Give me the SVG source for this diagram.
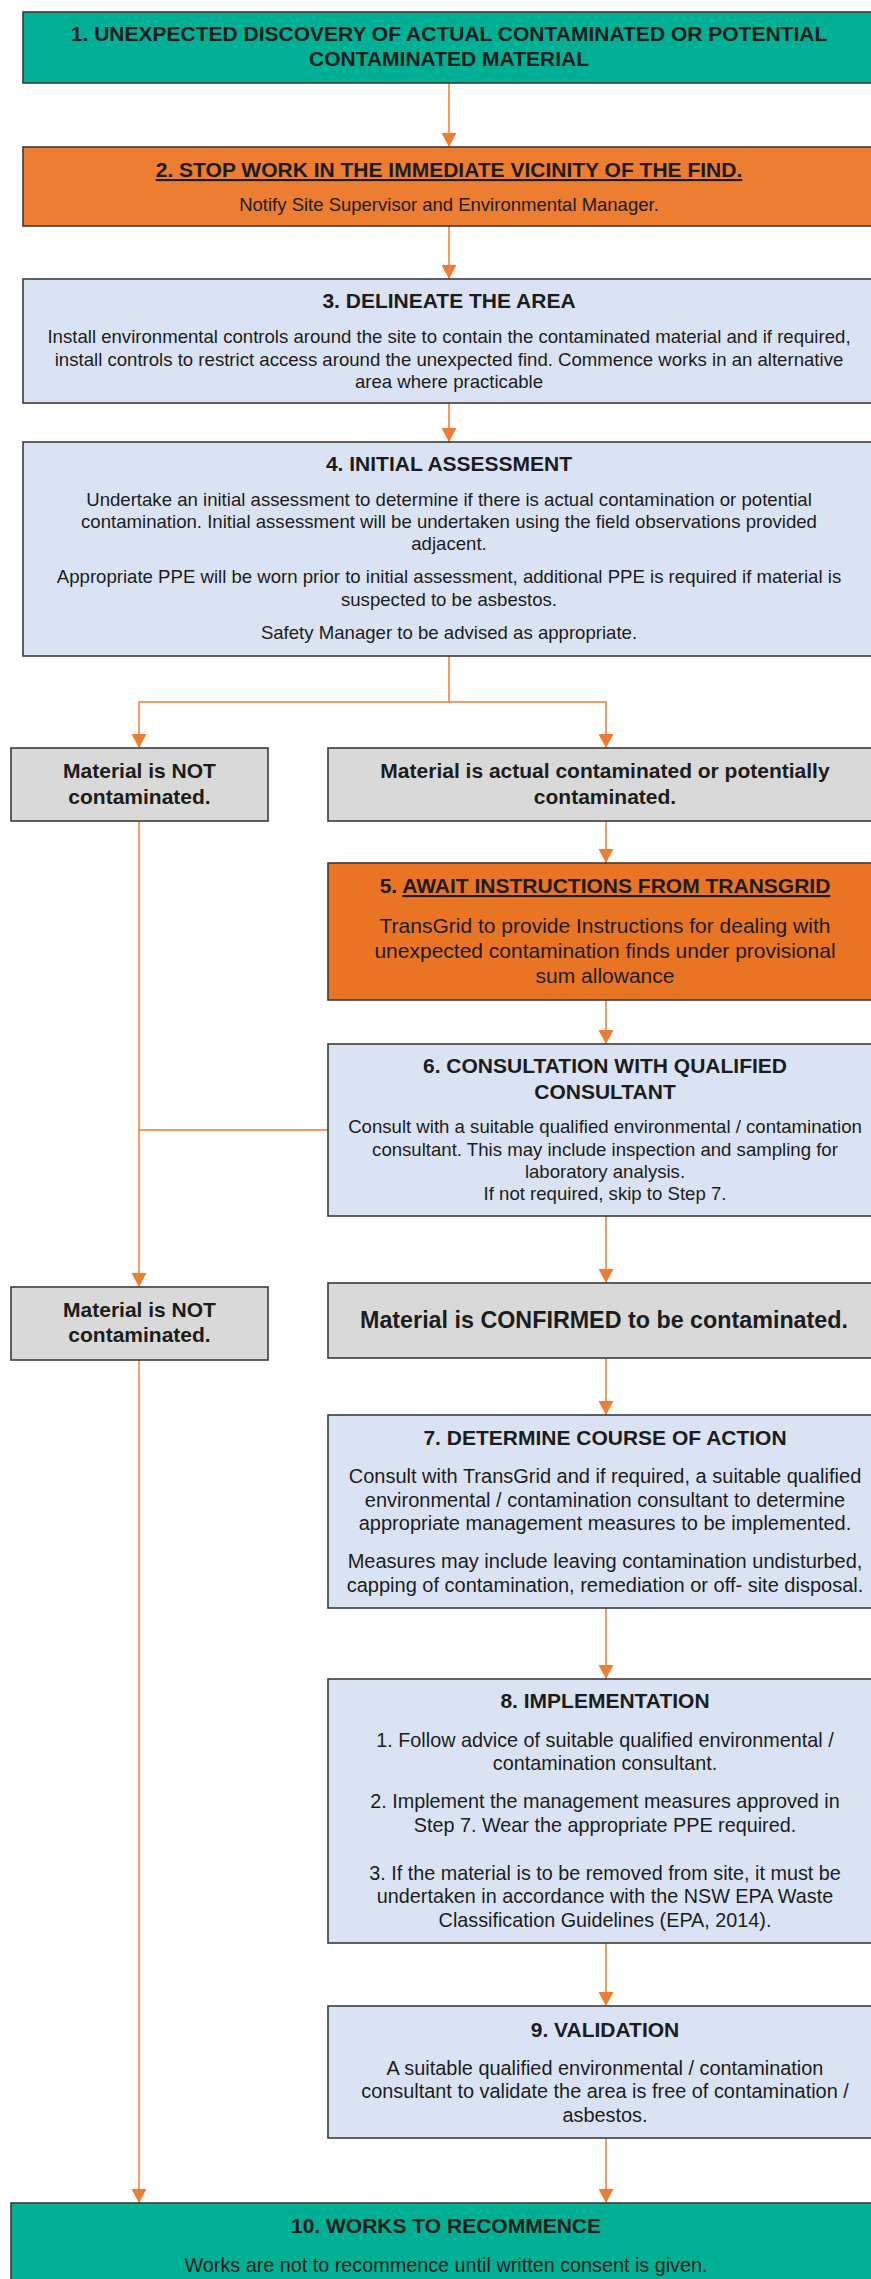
<svg xmlns="http://www.w3.org/2000/svg" width="871" height="2279" viewBox="0 0 871 2279">
<defs>
<style>
.box{stroke:#3b3b3b;stroke-width:1.6}
.teal{fill:#00B095}
.org{fill:#ED7D31}
.org2{fill:#E97424}
.blue{fill:#DAE3F3}
.gray{fill:#D9D9D9}
text{font-family:"Liberation Sans",Arial,sans-serif;fill:#1c1c1c;text-anchor:middle}
.t{font-weight:bold;font-size:21px}
.b{font-size:18.6px}
.conn{fill:none;stroke:#ED7D31;stroke-width:1.5}
.ul{text-decoration:underline}
</style>
<marker id="ah" markerUnits="userSpaceOnUse" markerWidth="15" markerHeight="15" refX="14" refY="7.5" orient="auto" viewBox="0 0 15 15">
<path d="M0,0 L14,7.5 L0,15 z" fill="#ED7D31"/>
</marker>
</defs>

<g id="connectors">
<path class="conn" d="M449,83 V147" marker-end="url(#ah)"/>
<path class="conn" d="M449,226 V279" marker-end="url(#ah)"/>
<path class="conn" d="M449,403 V442" marker-end="url(#ah)"/>
<path class="conn" d="M449,656 V702"/>
<path class="conn" d="M449,702 H139 V748" marker-end="url(#ah)"/>
<path class="conn" d="M449,702 H606 V748" marker-end="url(#ah)"/>
<path class="conn" d="M606,821 V863" marker-end="url(#ah)"/>
<path class="conn" d="M606,1000 V1044" marker-end="url(#ah)"/>
<path class="conn" d="M139,821 V1287" marker-end="url(#ah)"/>
<path class="conn" d="M328,1130 H139"/>
<path class="conn" d="M606,1216 V1283" marker-end="url(#ah)"/>
<path class="conn" d="M606,1358 V1415" marker-end="url(#ah)"/>
<path class="conn" d="M606,1608 V1679" marker-end="url(#ah)"/>
<path class="conn" d="M606,1943 V2006" marker-end="url(#ah)"/>
<path class="conn" d="M606,2138 V2203" marker-end="url(#ah)"/>
<path class="conn" d="M139,1360 V2203" marker-end="url(#ah)"/>
</g>

<g id="n1">
<rect class="box teal" x="23" y="12" width="860" height="71"/>
<text class="t" x="449" y="41">1. UNEXPECTED DISCOVERY OF ACTUAL CONTAMINATED OR POTENTIAL</text>
<text class="t" x="449" y="66">CONTAMINATED MATERIAL</text>
</g>

<g id="n2">
<rect class="box org" x="23" y="147" width="860" height="79"/>
<text class="t ul" x="449" y="177">2. STOP WORK IN THE IMMEDIATE VICINITY OF THE FIND.</text>
<text class="b" x="449" y="211" style="font-size:18.5px">Notify Site Supervisor and Environmental Manager.</text>
</g>

<g id="n3">
<rect class="box blue" x="23" y="279" width="860" height="124"/>
<text class="t" x="449" y="308">3. DELINEATE THE AREA</text>
<text class="b" x="449" y="343">Install environmental controls around the site to contain the contaminated material and if required,</text>
<text class="b" x="449" y="366">install controls to restrict access around the unexpected find. Commence works in an alternative</text>
<text class="b" x="449" y="388">area where practicable</text>
</g>

<g id="n4">
<rect class="box blue" x="23" y="442" width="860" height="214"/>
<text class="t" x="449" y="471">4. INITIAL ASSESSMENT</text>
<text class="b" x="449" y="506">Undertake an initial assessment to determine if there is actual contamination or potential</text>
<text class="b" x="449" y="528">contamination. Initial assessment will be undertaken using the field observations provided</text>
<text class="b" x="449" y="550">adjacent.</text>
<text class="b" x="449" y="583">Appropriate PPE will be worn prior to initial assessment, additional PPE is required if material is</text>
<text class="b" x="449" y="606">suspected to be asbestos.</text>
<text class="b" x="449" y="639">Safety Manager to be advised as appropriate.</text>
</g>

<g id="n_not1">
<rect class="box gray" x="11" y="748" width="257" height="73"/>
<text class="t" x="139.5" y="778">Material is NOT</text>
<text class="t" x="139.5" y="804">contaminated.</text>
</g>

<g id="n_cont">
<rect class="box gray" x="328" y="748" width="560" height="73"/>
<text class="t" x="605" y="778">Material is actual contaminated or potentially</text>
<text class="t" x="605" y="804">contaminated.</text>
</g>

<g id="n5">
<rect class="box org2" x="328" y="863" width="560" height="137"/>
<text class="t" x="605" y="893">5. <tspan class="ul">AWAIT INSTRUCTIONS FROM TRANSGRID</tspan></text>
<text class="b" x="605" y="933" style="font-size:21px">TransGrid to provide Instructions for dealing with</text>
<text class="b" x="605" y="958" style="font-size:21px">unexpected contamination finds under provisional</text>
<text class="b" x="605" y="983" style="font-size:21px">sum allowance</text>
</g>

<g id="n6">
<rect class="box blue" x="328" y="1044" width="560" height="172"/>
<text class="t" x="605" y="1073">6. CONSULTATION WITH QUALIFIED</text>
<text class="t" x="605" y="1099">CONSULTANT</text>
<text class="b" x="605" y="1133">Consult with a suitable qualified environmental / contamination</text>
<text class="b" x="605" y="1156">consultant. This may include inspection and sampling for</text>
<text class="b" x="605" y="1178">laboratory analysis.</text>
<text class="b" x="605" y="1200">If not required, skip to Step 7.</text>
</g>

<g id="n_not2">
<rect class="box gray" x="11" y="1287" width="257" height="73"/>
<text class="t" x="139.5" y="1317">Material is NOT</text>
<text class="t" x="139.5" y="1342">contaminated.</text>
</g>

<g id="n_confirmed">
<rect class="box gray" x="328" y="1283" width="560" height="75"/>
<text class="t" x="604" y="1328" style="font-size:23.3px">Material is CONFIRMED to be contaminated.</text>
</g>

<g id="n7">
<rect class="box blue" x="328" y="1415" width="560" height="193"/>
<text class="t" x="605" y="1445">7. DETERMINE COURSE OF ACTION</text>
<g style="font-size:20px">
<text class="b" x="605" y="1483" style="font-size:20px">Consult with TransGrid and if required, a suitable qualified</text>
<text class="b" x="605" y="1507" style="font-size:20px">environmental / contamination consultant to determine</text>
<text class="b" x="605" y="1530" style="font-size:20px">appropriate management measures to be implemented.</text>
<text class="b" x="605" y="1568" style="font-size:20px">Measures may include leaving contamination undisturbed,</text>
<text class="b" x="605" y="1592" style="font-size:20px">capping of contamination, remediation or off- site disposal.</text>
</g>
</g>

<g id="n8">
<rect class="box blue" x="328" y="1679" width="560" height="264"/>
<text class="t" x="605" y="1708">8. IMPLEMENTATION</text>
<text class="b" x="605" y="1747" style="font-size:19.8px">1. Follow advice of suitable qualified environmental /</text>
<text class="b" x="605" y="1770" style="font-size:19.8px">contamination consultant.</text>
<text class="b" x="605" y="1808" style="font-size:19.8px">2. Implement the management measures approved in</text>
<text class="b" x="605" y="1832" style="font-size:19.8px">Step 7. Wear the appropriate PPE required.</text>
<text class="b" x="605" y="1880" style="font-size:19.8px">3. If the material is to be removed from site, it must be</text>
<text class="b" x="605" y="1903" style="font-size:19.8px">undertaken in accordance with the NSW EPA Waste</text>
<text class="b" x="605" y="1927" style="font-size:19.8px">Classification Guidelines (EPA, 2014).</text>
</g>

<g id="n9">
<rect class="box blue" x="328" y="2006" width="560" height="132"/>
<text class="t" x="605" y="2037">9. VALIDATION</text>
<text class="b" x="605" y="2075" style="font-size:19.9px">A suitable qualified environmental / contamination</text>
<text class="b" x="605" y="2098" style="font-size:19.9px">consultant to validate the area is free of contamination /</text>
<text class="b" x="605" y="2122" style="font-size:19.9px">asbestos.</text>
</g>

<g id="n10">
<rect class="box teal" x="11" y="2203" width="870" height="90"/>
<text class="t" x="446" y="2233">10. WORKS TO RECOMMENCE</text>
<text class="b" x="446" y="2272" style="font-size:19.8px">Works are not to recommence until written consent is given.</text>
</g>
</svg>
